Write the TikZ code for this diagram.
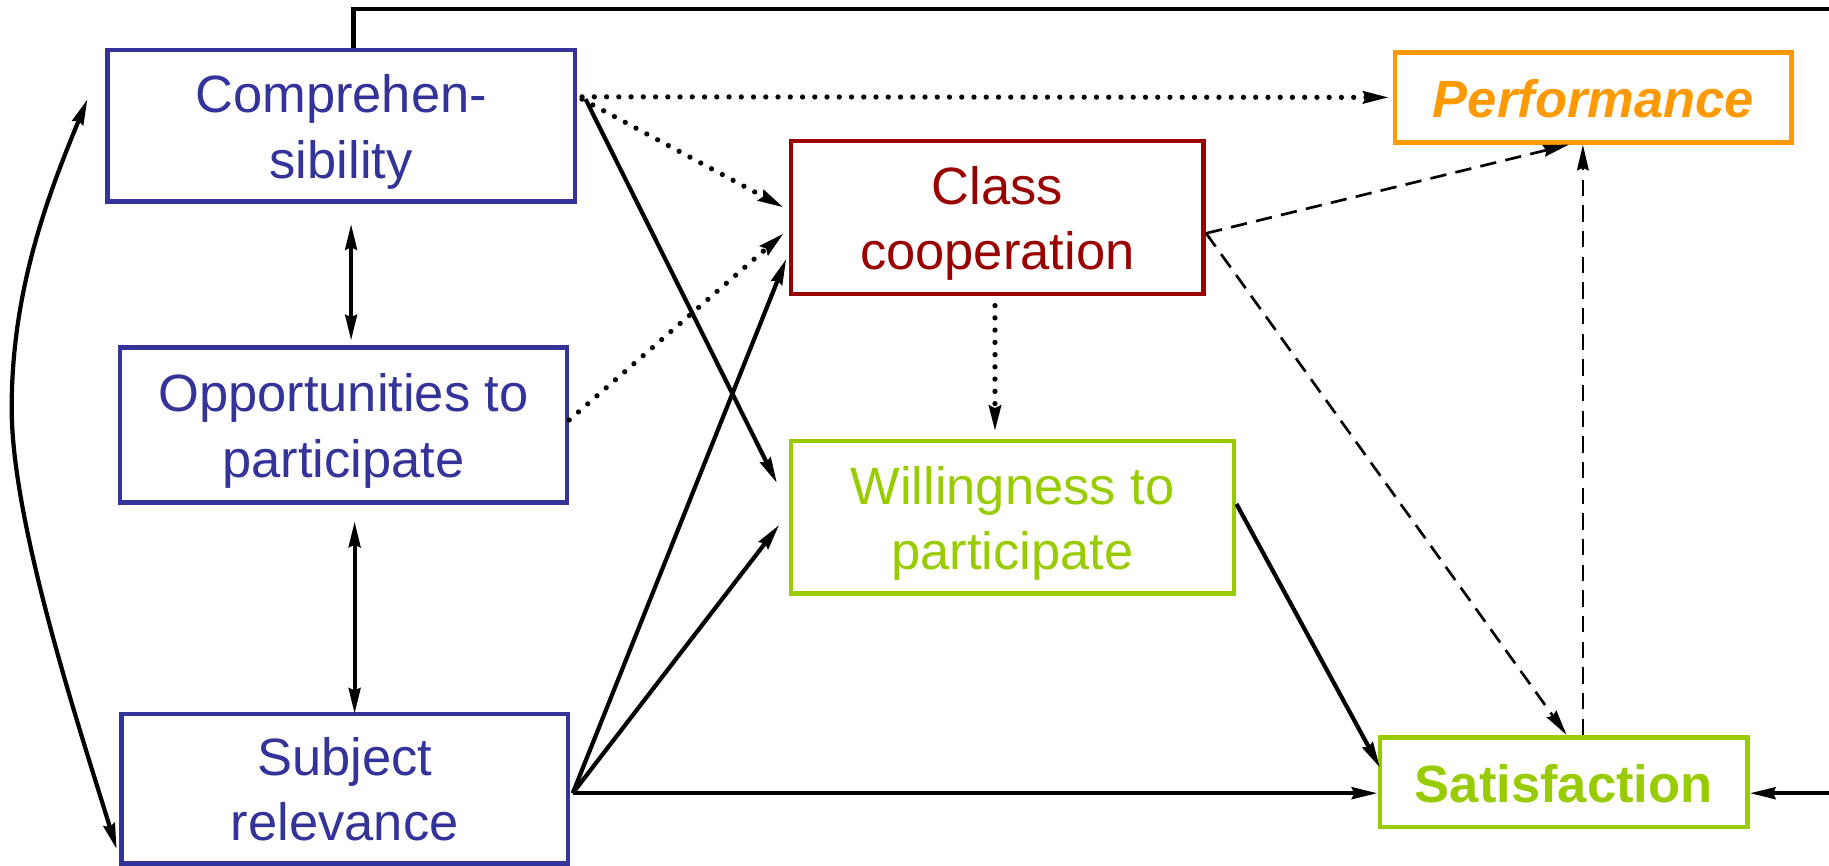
\documentclass[tikz,border=0pt]{standalone}
\usepackage{fontspec}
\setmainfont{Liberation Sans}
\usetikzlibrary{arrows.meta,calc}
\definecolor{cblue}{HTML}{333399}
\definecolor{cred}{HTML}{990000}
\definecolor{cgreen}{HTML}{99CC00}
\definecolor{corange}{HTML}{FF9900}
\newcommand\twolines[2]{\begin{tabular}{@{}c@{}}\rule{0pt}{50pt}#1\\#2\end{tabular}}
\newcommand\oneline[1]{\begin{tabular}{@{}c@{}}\rule{0pt}{52pt}#1\end{tabular}}
\tikzset{
  box/.style={draw, line width=4pt, inner sep=0pt,
    font=\fontsize{45}{56}\selectfont},
  tip/.style={-{Stealth[length=22pt,width=10pt,inset=2pt]}},
  solidarr/.style={tip, line width=3.6pt},
  dotarr/.style={tip, line width=4.5pt, line cap=round, dash pattern=on 0pt off 10.5pt},
  dasharr/.style={tip, line width=2.3pt, dash pattern=on 14pt off 8pt},
  dblarr/.style={{Stealth[length=22pt,width=10pt,inset=2pt]}-{Stealth[length=22pt,width=10pt,inset=2pt]}, line width=3.6pt},
}
\begin{document}
\begin{tikzpicture}[x=1pt,y=-1pt]
\useasboundingbox (0,0) rectangle (1568,742);
\node[box, cblue, minimum width=401pt, minimum height=130pt] (comp) at (292.5,108) {\twolines{Comprehen-}{sibility}};
\node[box, cblue, minimum width=383pt, minimum height=133pt] (opp) at (294.5,364.5) {\twolines{Opportunities to}{participate}};
\node[box, cblue, minimum width=383pt, minimum height=128pt] (subj) at (295.5,676) {\twolines{Subject}{relevance}};
\node[box, cred, minimum width=354pt, minimum height=131pt] (class) at (855,186.5) {\twolines{Class}{cooperation}};
\node[box, cgreen, minimum width=380pt, minimum height=131pt] (will) at (868,443.5) {\twolines{Willingness to}{participate}};
\node[box, corange, minimum width=340pt, minimum height=77pt, font=\fontsize{45}{56}\selectfont\bfseries\itshape] (perf) at (1366,83.5) {\oneline{Performance}};
\node[box, cgreen, minimum width=315pt, minimum height=77pt, font=\fontsize{45}{56}\selectfont\bfseries] (sat) at (1340.5,670.5) {\oneline{Satisfaction}};
\coordinate (toprt) at (1575,8);
% top loop
\draw[solidarr] ($(comp.north)+(10.5,0)$) |- (toprt) |- ($(sat.east)+(0,9.5)$);
% left curve
\draw[dblarr] ($(subj.west)+(-2,52)$) .. controls (70,630) and (10,450) .. (10,350)
  .. controls (10,250) and (40,170) .. ($(comp.west)+(-15,-23)$);
% vertical double arrows
\draw[dblarr] ($(comp.south)+(8.5,17)$) -- ($(opp.north)+(6.5,-4)$);
\draw[dblarr] ($(opp.south)+(9.5,14)$) -- ($(subj.north)+(8.5,2)$);
% from comprehensibility
\draw[dotarr] ($(comp.east)+(4,-25)$) -- ($(perf.west)+(-3,0)$);
\draw[dotarr] ($(comp.east)+(4,-23)$) -- ($(class.west)+(-4,-8.5)$);
\draw[solidarr] ($(comp.east)+(7,-23)$) -- ($(will.west)+(-10,-29.5)$);
% from opportunities
\draw[dotarr] ($(opp.east)+(0,-4.5)$) -- ($(class.west)+(-4,13.5)$);
% from subject relevance
\draw[solidarr] ($(subj.east)+(2,4)$) -- ($(class.west)+(-2,35.5)$);
\draw[solidarr] ($(subj.east)+(2,4)$) -- ($(will.west)+(-8,6.5)$);
\draw[solidarr] ($(subj.east)+(2,4)$) -- ($(sat.west)+(0,9.5)$);
% from class cooperation
\draw[dotarr] ($(class.south)+(-2,8)$) -- ($(will.north)+(-15,-6)$);
\draw[dasharr] ($(class.east)+(0,13.5)$) -- ($(perf.south)+(-21,0)$);
\draw[dasharr] ($(class.east)+(0,13.5)$) -- ($(sat.north)+(2.5,0)$);
% satisfaction to performance
\draw[dasharr] ($(sat.north)+(16.5,0)$) -- ($(perf.south)+(-9,0)$);
% willingness to satisfaction
\draw[solidarr] ($(will.east)+(0,-11.5)$) -- ($(sat.west)+(2,-12.5)$);
\end{tikzpicture}
\end{document}
